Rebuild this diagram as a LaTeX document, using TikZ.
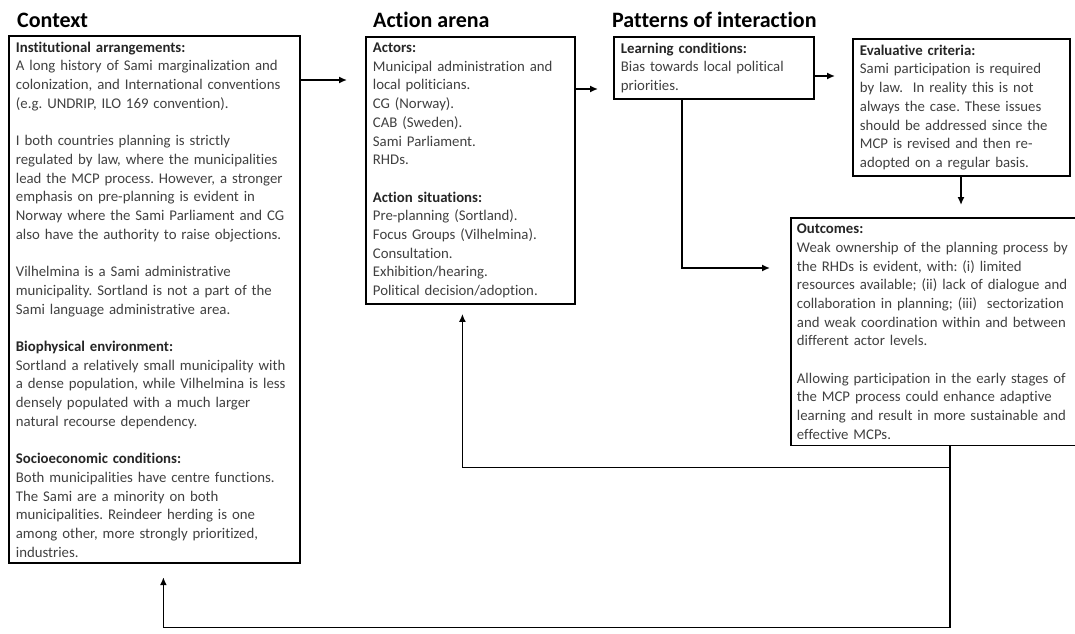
\documentclass[tikz,border=0pt]{standalone}
\usepackage{fontspec}
\setmainfont{Carlito}[Ligatures={NoCommon}]
\usetikzlibrary{arrows.meta,calc}
\definecolor{bodygray}{HTML}{404040}
\frenchspacing
\tikzset{
  panel/.style={draw, line width=1.8pt, anchor=north west, align=left, inner xsep=7pt, inner ysep=6pt,
    font=\fontsize{14.8}{18.7}\selectfont, text=bodygray},
  heading/.style={anchor=base west, inner sep=0pt, font=\fontsize{22}{26}\selectfont\bfseries},
  flow/.style={line width=1.5pt, -{Latex[length=8pt,width=7pt]}}
}
\newcommand\hd[1]{\textcolor{black!85}{\textbf{#1}}}

\begin{document}
\begin{tikzpicture}[x=1pt,y=-1pt]
  \useasboundingbox (0,0) rectangle (1075,633);
  \node[heading] (ctxT) at (17,27) {Context};
  \node[heading] (actT) at (373,27) {Action arena};
  \node[heading] (patT) at (612,27) {Patterns of interaction};

  \node[panel, text width=277pt] (ctx) at (8,35) {\hd{Institutional arrangements:}\\
    A long history of Sami marginalization and\\
    colonization, and International conventions\\
    (e.g. UNDRIP, ILO 169 convention).\\[18.7pt]
    I both countries planning is strictly\\
    regulated by law, where the municipalities\\
    lead the MCP process. However, a stronger\\
    emphasis on pre-planning is evident in\\
    Norway where the Sami Parliament and CG\\
    also have the authority to raise objections.\\[18.7pt]
    Vilhelmina is a Sami administrative\\
    municipality. Sortland is not a part of the\\
    Sami language administrative area.\\[18.7pt]
    \hd{Biophysical environment:}\\
    Sortland a relatively small municipality with\\
    a dense population, while Vilhelmina is less\\
    densely populated with a much larger\\
    natural recourse dependency.\\[18.7pt]
    \hd{Socioeconomic conditions:}\\
    Both municipalities have centre functions.\\
    The Sami are a minority on both\\
    municipalities. Reindeer herding is one\\
    among other, more strongly prioritized,\\
    industries.};

  \node[panel, text width=195pt] (act) at (365,36) {\hd{Actors:}\\
    Municipal administration and\\
    local politicians.\\
    CG (Norway).\\
    CAB (Sweden).\\
    Sami Parliament.\\
    RHDs.\\[18.7pt]
    \hd{Action situations:}\\
    Pre-planning (Sortland).\\
    Focus Groups (Vilhelmina).\\
    Consultation.\\
    Exhibition/hearing.\\
    Political decision/adoption.};

  \node[panel, text width=186pt] (lrn) at (613,36) {\hd{Learning conditions:}\\
    Bias towards local political\\
    priorities.};

  \node[panel, text width=203pt] (evl) at (852,38) {\hd{Evaluative criteria:}\\
    Sami participation is required\\
    by law.\ \ In reality this is not\\
    always the case. These issues\\
    should be addressed since the\\
    MCP is revised and then re-\\
    adopted on a regular basis.};

  \node[panel, text width=280pt, inner xsep=6pt] (out) at (790,217) {\hd{Outcomes:}\\
    Weak ownership of the planning process by\\
    the RHDs is evident, with: (i) limited\\
    resources available; (ii) lack of dialogue and\\
    collaboration in planning; (iii)\ \ sectorization\\
    and weak coordination within and between\\
    different actor levels.\\[18.7pt]
    Allowing participation in the early stages of\\
    the MCP process could enhance adaptive\\
    learning and result in more sustainable and\\
    effective MCPs.};

  \draw[flow] ($(ctx.north east)+(0,45)$) -- ($(act.north west)+(-18,44)$);
  \draw[flow] ($(act.north east)+(0,53)$) -- ($(lrn.north west)+(-15,53)$);
  \draw[flow] ($(lrn.north east)+(0,40)$) -- ($(evl.north west)+(-17,38)$);
  \draw[flow] ($(evl.south west)+(109,0)$) -- ($(out.north west)+(171,-12)$);
  \draw[flow] ($(lrn.south west)+(69,0)$) |- ($(out.north west)+(-20,51)$);
  \draw[flow] ($(out.south west)+(160,0)$) -- ++(0,21) -| ($(act.south)+(-8,9)$);
  \draw[flow] ($(out.south west)+(160,0)$) -- ++(0,181) -| ($(ctx.south)+(9,13)$);
\end{tikzpicture}
\end{document}
